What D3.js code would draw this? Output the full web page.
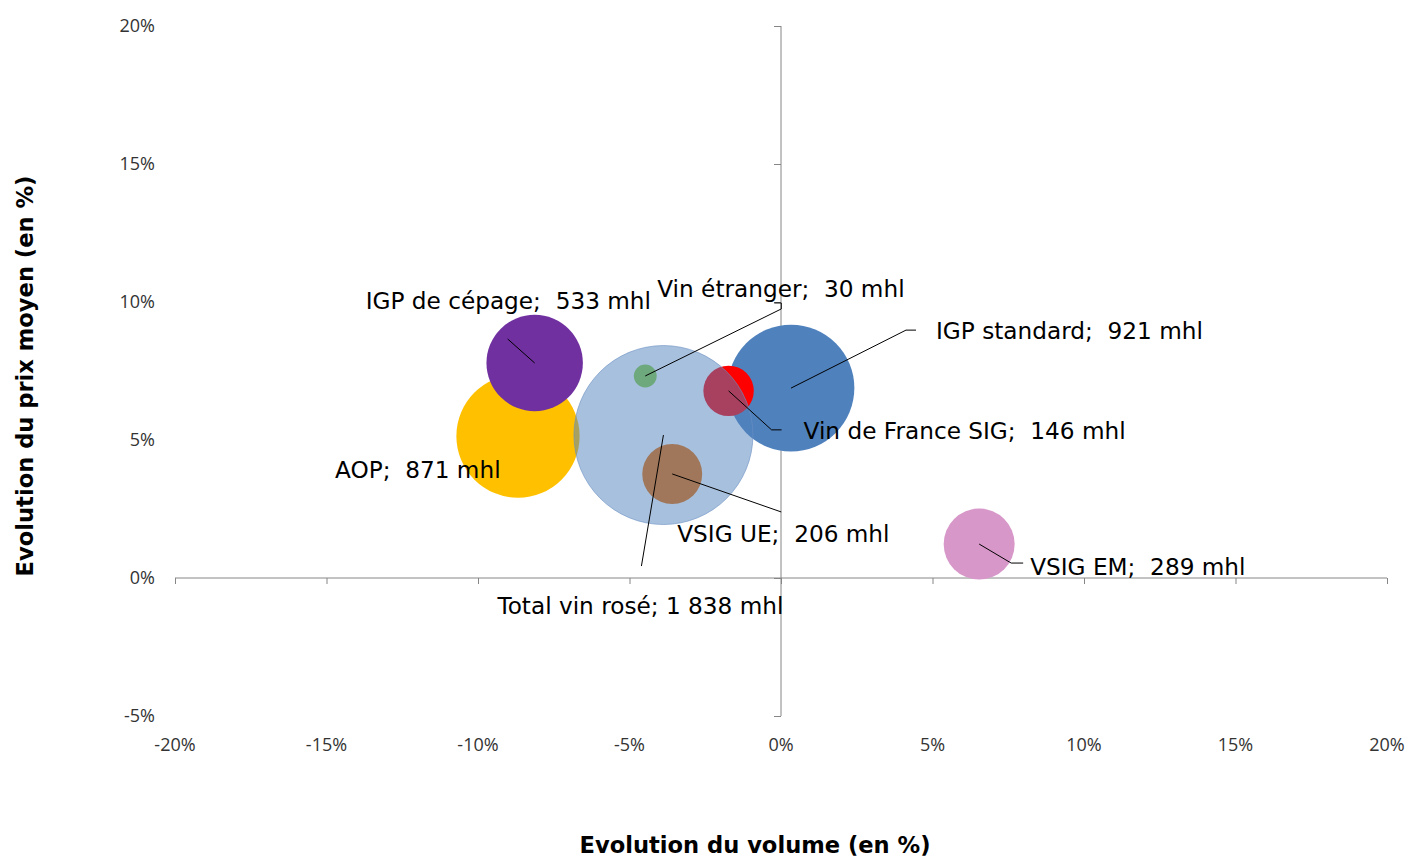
<!DOCTYPE html>
<meta charset="utf-8">
<style>

body {
  margin: 0;
  background: #fff;
}

text {
  white-space: pre;
}

.tick-label {
  font-family: "Open Sans", sans-serif;
  font-size: 18px;
  fill: #333;
}

.bubble-label {
  font-family: "DejaVu Sans", sans-serif;
  font-size: 23.2px;
  fill: #000;
}

.axis-title {
  font-family: "DejaVu Sans", sans-serif;
  font-weight: bold;
  font-size: 22.6px;
  fill: #000;
}

</style>
<svg id="chart" width="1408" height="857"></svg>
<script src="https://d3js.org/d3.v7.min.js"></script>
<script>

// Series, in drawing order (bottom to top)
var names = ["IGP standard", "Vin de France SIG", "AOP", "Total vin rosé",
             "IGP de cépage", "VSIG UE", "Vin étranger", "VSIG EM"];
var labels = ["IGP standard;  921 mhl", "Vin de France SIG;  146 mhl", "AOP;  871 mhl",
              "Total vin rosé; 1 838 mhl", "IGP de cépage;  533 mhl", "VSIG UE;  206 mhl",
              "Vin étranger;  30 mhl", "VSIG EM;  289 mhl"];
var volumeChange = [0.0033, -0.0173, -0.0868, -0.0388, -0.0813, -0.0359, -0.0448, 0.0654];
var priceChange  = [0.0688, 0.0678, 0.0514, 0.0518, 0.0779, 0.0377, 0.0732, 0.0123];
var volume       = [921, 146, 871, 1838, 533, 206, 30, 289];

var xTicks = [-0.2, -0.15, -0.1, -0.05, 0, 0.05, 0.1, 0.15, 0.2];
var yTicks = [-0.05, 0, 0.05, 0.1, 0.15, 0.2];

var colors = ["#4F81BD", "#FF0000", "#FFC000", "#4F81BD",
              "#7030A0", "#A0775A", "#6EA87D", "#D797C9"];
var opacity = [1, 1, 1, 0.5, 1, 1, 1, 1];

// label placement: text start offset and leader line path, relative to bubble centre (px)
var labelLayout = {
  "IGP standard":      {dx: 145,  dy: -57, leader: [[0, 0], [115, -58], [125, -58]]},
  "Vin de France SIG": {dx: 75,   dy: 40,  leader: [[0, 0], [43, 39], [53, 39]]},
  "AOP":               {dx: -183, dy: 34,  leader: null},
  "Total vin rosé":    {dx: -166, dy: 171, leader: [[0, 0], [-22, 131]]},
  "IGP de cépage":     {dx: -169, dy: -62, leader: [[0, 0], [-27, -24]]},
  "VSIG UE":           {dx: 5,    dy: 60,  leader: [[0, 0], [109, 38]]},
  "Vin étranger":      {dx: 12,   dy: -87, leader: [[0, 0], [136, -67], [136, -73], [129, -73]]},
  "VSIG EM":           {dx: 51,   dy: 23,  leader: [[0, 0], [32, 19], [44, 19]]}
};

var data = names.map(function(n, i) {
  return {name: n, label: labels[i], x: volumeChange[i], y: priceChange[i],
          size: volume[i], color: colors[i], opacity: opacity[i]};
});

var svg = d3.select("svg");

var x = d3.scaleLinear().domain([-0.2, 0.2]).range([175, 1387]);
var y = d3.scaleLinear().domain([-0.05, 0.2]).range([716, 26]);
var r = d3.scaleSqrt().domain([0, 1838]).range([0, 89.5]);

var pct = function(d) { return d3.format(".0%")(d).replace("−", "-"); };

// axes crossing at zero
var axisColor = "#868686";

svg.append("g")
    .attr("transform", "translate(0," + y(0) + ")")
    .call(d3.axisBottom(x).tickValues(xTicks).tickSize(6).tickFormat(""))
    .call(function(g) {
      g.select(".domain").attr("stroke", axisColor).attr("d", "M" + x(-0.2) + ",0H" + x(0.2));
      g.selectAll(".tick line").attr("stroke", axisColor);
    });

svg.append("g")
    .attr("transform", "translate(" + x(0) + ",0)")
    .call(d3.axisLeft(y).tickValues(yTicks).tickSize(7).tickFormat(""))
    .call(function(g) {
      g.select(".domain").attr("stroke", axisColor).attr("d", "M0," + y(0.2) + "V" + y(-0.05));
      g.selectAll(".tick line").attr("stroke", axisColor);
    });

// tick labels sit at the low edges of the plot
svg.append("g").selectAll("text")
  .data(xTicks)
  .enter().append("text")
    .attr("class", "tick-label")
    .attr("x", function(d) { return x(d); })
    .attr("y", 745)
    .attr("dy", "0.35em")
    .attr("text-anchor", "middle")
    .text(pct);

svg.append("g").selectAll("text")
  .data(yTicks)
  .enter().append("text")
    .attr("class", "tick-label")
    .attr("x", 155)
    .attr("y", function(d) { return y(d); })
    .attr("dy", "0.35em")
    .attr("text-anchor", "end")
    .text(pct);

// bubbles
svg.append("g").selectAll("circle")
  .data(data)
  .enter().append("circle")
    .attr("cx", function(d) { return x(d.x); })
    .attr("cy", function(d) { return y(d.y); })
    .attr("r", function(d) { return r(d.size); })
    .attr("fill", function(d) { return d.color; })
    .attr("fill-opacity", function(d) { return d.opacity; })
    .attr("stroke", function(d) { return d.opacity < 1 ? "#6a8fc2" : "none"; })
    .attr("stroke-opacity", 0.6);

// leader lines
var line = d3.line();
svg.append("g").selectAll("path")
  .data(data.filter(function(d) { return labelLayout[d.name].leader; }))
  .enter().append("path")
    .attr("fill", "none")
    .attr("stroke", "#000")
    .attr("stroke-width", 1)
    .attr("d", function(d) {
      var cx = x(d.x), cy = y(d.y);
      return line(labelLayout[d.name].leader.map(function(p) { return [cx + p[0], cy + p[1]]; }));
    });

// data labels
svg.append("g").selectAll("text")
  .data(data)
  .enter().append("text")
    .attr("class", "bubble-label")
    .attr("x", function(d) { return x(d.x) + labelLayout[d.name].dx; })
    .attr("y", function(d) { return y(d.y) + labelLayout[d.name].dy; })
    .attr("dy", "0.35em")
    .text(function(d) { return d.label; });

// axis titles
svg.append("text")
    .attr("class", "axis-title")
    .attr("x", 755)
    .attr("y", 845)
    .attr("dy", "0.35em")
    .attr("text-anchor", "middle")
    .text("Evolution du volume (en %)");

svg.append("text")
    .attr("class", "axis-title")
    .attr("transform", "translate(25,376) rotate(-90)")
    .attr("dy", "0.35em")
    .attr("text-anchor", "middle")
    .text("Evolution du prix moyen (en %)");

</script>
